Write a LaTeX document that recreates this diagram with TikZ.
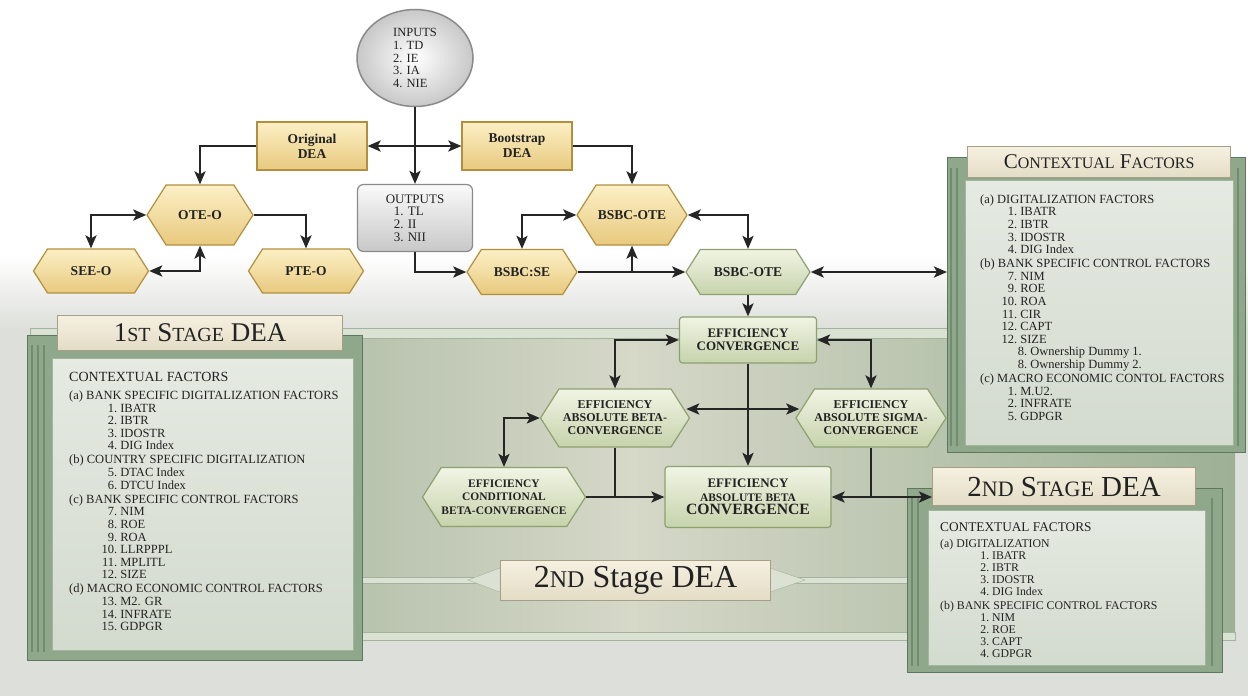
\documentclass[tikz,border=0pt]{standalone}
\usepackage{fontspec}
\setmainfont{Liberation Serif}
\usetikzlibrary{arrows.meta,shapes.symbols,shapes.geometric,calc}

\newcommand\itm[3][32pt]{\hspace*{#1}\makebox[16pt][r]{#2.}~#3}
\newcommand\smc[2]{{\fontsize{#1}{#1}\selectfont #2}}

\tikzset{
  link/.style={draw=arrowc,line width=2.8pt},
  goldbox/.style={draw=golddraw,line width=1.2pt,top color=goldtop,bottom color=goldbot,
    text=inkc,font=\fontsize{13.5}{15}\selectfont\bfseries,align=center,inner sep=0pt},
  goldhex/.style={goldbox,shape=signal,signal to=east and west,signal pointer angle=115},
  greenbox/.style={draw=greendraw,line width=1.2pt,top color=greentop,bottom color=greenbot,
    text=inkc,font=\fontsize{12.5}{13.5}\selectfont\bfseries,align=center,inner sep=0pt,rounded corners=3pt},
  greenhex/.style={greenbox,rounded corners=0pt,shape=signal,signal to=east and west,signal pointer angle=115,
    font=\fontsize{12}{13}\selectfont\bfseries},
  greybox/.style={draw=greydraw,line width=1.2pt,top color=greytop,bottom color=greybot,
    text=inkc,font=\fontsize{12.5}{12.6}\selectfont,align=left,inner sep=0pt},
  greyball/.style={draw=greydraw,line width=1.5pt,shape=ellipse,inner color=white,outer color=greybot,
    text=inkc,font=\fontsize{12.5}{12.6}\selectfont,align=left,inner sep=0pt},
  plate/.style={draw=platedraw,line width=1.2pt,top color=platetop,bottom color=platebot,
    text=inkc,inner sep=0pt,anchor=north west},
  frame/.style={draw=framedark,line width=1pt,fill=framemid,inner sep=0pt,anchor=north west},
  body/.style={draw=bodydraw,line width=1pt,top color=bodytop,bottom color=bodybot},
  listtxt/.style={text=inkc,font=\fontsize{12.5}{12.6}\selectfont,align=left,inner sep=0pt,anchor=north west}
}

\begin{document}
\begin{tikzpicture}[x=1pt,y=-1pt,>={Stealth[length=13pt,width=11pt,inset=3pt]}]
\definecolor{arrowc}{HTML}{252525}
\definecolor{inkc}{HTML}{222222}
\definecolor{goldtop}{HTML}{FCF0C6}
\definecolor{goldbot}{HTML}{E8C97E}
\definecolor{golddraw}{HTML}{B28F3E}
\definecolor{greentop}{HTML}{F1F4E4}
\definecolor{greenbot}{HTML}{C6D3AC}
\definecolor{greendraw}{HTML}{8EA070}
\definecolor{greytop}{HTML}{FAFAFA}
\definecolor{greybot}{HTML}{C8C8C8}
\definecolor{greydraw}{HTML}{8A8A8A}
\definecolor{platetop}{HTML}{F5F0E0}
\definecolor{platebot}{HTML}{E3DCC6}
\definecolor{platedraw}{HTML}{A79E86}
\definecolor{framemid}{HTML}{8FA78B}
\definecolor{framedark}{HTML}{5E785F}
\definecolor{bandc}{HTML}{718D70}
\definecolor{bodytop}{HTML}{E5EAE2}
\definecolor{bodybot}{HTML}{D3DACE}
\definecolor{bodydraw}{HTML}{A3B49C}
\definecolor{mist}{HTML}{DDDFDA}
\definecolor{boardL}{HTML}{93AA8E}
\definecolor{boardM}{HTML}{D6D8C8}
\definecolor{boardR}{HTML}{9DB196}
\definecolor{ledge}{HTML}{DCE2D3}

\useasboundingbox (0,0) rectangle (1248,696);
% backdrop and board
\fill[white] (0,0) rectangle (1248,696);
\shade[top color=white,bottom color=mist] (0,255) rectangle (1248,330);
\fill[mist] (0,330) rectangle (1248,696);
\shade[left color=boardL,right color=boardR,middle color=boardM] (30,330) rectangle (1235,640);
\fill[ledge,draw=bodydraw] (30,328) rectangle (1235,338);
\fill[ledge,draw=bodydraw] (30,632) rectangle (1235,640);

% banner
\fill[ledge,draw=bodydraw] (362,577) rectangle (907,583);
\filldraw[fill=ledge,draw=bodydraw] (468,580) -- (500,568) -- (500,592) -- cycle;
\filldraw[fill=ledge,draw=bodydraw] (805,580) -- (770,568) -- (770,592) -- cycle;
\node[plate,minimum width=270,minimum height=40,font=\fontsize{32}{32}\selectfont] (bn) at (500,560)
  {2\smc{24}{ND} Stage DEA};

% 1st stage panel
\node[frame,minimum width=335,minimum height=325] (p1) at (27,335) {};
\foreach \x in {32,38,44} \draw[bandc,line width=1.5pt] (\x,345) -- (\x,652);
\shade[body] (52,358) rectangle (353,650);
\node[plate,minimum width=285,minimum height=35,font=\fontsize{27}{27}\selectfont] (t1) at (57,315)
  {1\smc{20}{ST} S\smc{20}{TAGE} DEA};
\node[listtxt] (l1) at (69,372) {{\fontsize{14}{16}\selectfont CONTEXTUAL FACTORS}\\[5.4pt]
(a) BANK SPECIFIC DIGITALIZATION FACTORS\\
\itm{1}{IBATR}\\
\itm{2}{IBTR}\\
\itm{3}{IDOSTR}\\
\itm{4}{DIG Index}\\[1.5pt]
(b) COUNTRY SPECIFIC DIGITALIZATION\\
\itm{5}{DTAC Index}\\
\itm{6}{DTCU Index}\\[1.5pt]
(c) BANK SPECIFIC CONTROL FACTORS\\
\itm{7}{NIM}\\
\itm{8}{ROE}\\
\itm{9}{ROA}\\
\itm{10}{LLRPPPL}\\
\itm{11}{MPLITL}\\
\itm{12}{SIZE}\\[1.5pt]
(d) MACRO ECONOMIC CONTROL FACTORS\\
\itm{13}{M2. GR}\\
\itm{14}{INFRATE}\\
\itm{15}{GDPGR}};

% contextual factors panel
\node[frame,minimum width=298,minimum height=295] (p2) at (947,157) {};
\foreach \x in {951,957,1238} \draw[bandc,line width=1.5pt] (\x,168) -- (\x,446);
\shade[body] (965,180) rectangle (1233,445);
\node[plate,minimum width=263,minimum height=31,font=\fontsize{21}{21}\selectfont] (t2) at (967,146)
  {C\smc{16}{ONTEXTUAL} F\smc{16}{ACTORS}};
\node[listtxt] (l2) at (980,194.5) {(a) DIGITALIZATION FACTORS\\
\itm[21pt]{1}{IBATR}\\
\itm[21pt]{2}{IBTR}\\
\itm[21pt]{3}{IDOSTR}\\
\itm[21pt]{4}{DIG Index}\\[1.4pt]
(b) BANK SPECIFIC CONTROL FACTORS\\
\itm[21pt]{7}{NIM}\\
\itm[21pt]{9}{ROE}\\
\itm[21pt]{10}{ROA}\\
\itm[21pt]{11}{CIR}\\
\itm[21pt]{12}{CAPT}\\
\itm[21pt]{12}{SIZE}\\
\itm[31pt]{8}{Ownership Dummy 1.}\\
\itm[31pt]{8}{Ownership Dummy 2.}\\[1.4pt]
(c) MACRO ECONOMIC CONTOL FACTORS\\
\itm[21pt]{1}{M.U2.}\\
\itm[21pt]{2}{INFRATE}\\
\itm[21pt]{5}{GDPGR}};

% 2nd stage panel
\node[frame,minimum width=315,minimum height=184] (p3) at (907,488) {};
\foreach \x in {912,918,1212} \draw[bandc,line width=1.5pt] (\x,498) -- (\x,666);
\shade[body] (928,510) rectangle (1205,665);
\node[plate,minimum width=263,minimum height=38,font=\fontsize{29}{29}\selectfont] (t3) at (932,467)
  {2\smc{22}{ND} S\smc{22}{TAGE} DEA};
\node[listtxt,font=\fontsize{11.8}{12}\selectfont] (l3) at (940,522) {{\fontsize{13.3}{15}\selectfont CONTEXTUAL FACTORS}\\[4pt]
(a) DIGITALIZATION\\
\itm[33pt]{1}{IBATR}\\
\itm[33pt]{2}{IBTR}\\
\itm[33pt]{3}{IDOSTR}\\
\itm[33pt]{4}{DIG Index}\\[2.5pt]
(b) BANK SPECIFIC CONTROL FACTORS\\
\itm[33pt]{1}{NIM}\\
\itm[33pt]{2}{ROE}\\
\itm[33pt]{3}{CAPT}\\
\itm[33pt]{4}{GDPGR}};

% first stage flow
\node[greyball,minimum width=116,minimum height=97] (inp) at (415,58) {INPUTS\\1. TD\\2. IE\\3. IA\\4. NIE};
\node[greybox,rounded corners=6pt,minimum width=115,minimum height=67,font=\fontsize{13}{12.6}\selectfont] (out) at (415,218)
  {OUTPUTS\\\hspace*{8pt}1. TL\\\hspace*{8pt}2. II\\\hspace*{8pt}3. NII};
\node[goldbox,minimum width=110,minimum height=48] (orig) at (312,146) {Original\\DEA};
\node[goldbox,minimum width=110,minimum height=48] (boot) at (517,146) {Bootstrap\\DEA};
\node[goldhex,minimum width=106,minimum height=60] (ote) at (200,215) {OTE-O};
\node[goldhex,minimum width=115,minimum height=44] (see) at (91,271) {SEE-O};
\node[goldhex,minimum width=115,minimum height=44] (pte) at (306,271) {PTE-O};
\node[goldhex,minimum width=110,minimum height=60] (bote) at (632,215) {BSBC-OTE};
\node[goldhex,minimum width=110,minimum height=45] (bse) at (522,272) {BSBC:SE};
\node[greenhex,minimum width=124,minimum height=45,font=\fontsize{13.5}{15}\selectfont\bfseries] (bgote) at (748,272) {BSBC-OTE};

% convergence flow
\node[greenbox,minimum width=137,minimum height=46,font=\fontsize{13}{13.5}\selectfont\bfseries] (ec) at (748,340) {EFFICIENCY\\CONVERGENCE};
\node[greenhex,minimum width=149,minimum height=58] (abeta) at (615,418) {EFFICIENCY\\ABSOLUTE BETA-\\CONVERGENCE};
\node[greenhex,minimum width=138,minimum height=58] (asig) at (871,418) {EFFICIENCY\\ABSOLUTE SIGMA-\\CONVERGENCE};
\node[greenhex,minimum width=163,minimum height=59,font=\fontsize{11.5}{13.5}\selectfont\bfseries] (cbeta) at (504,497) {EFFICIENCY\\CONDITIONAL\\BETA-CONVERGENCE};
\node[greenbox,minimum width=166,minimum height=61] (abc) at (748,497)
  {\smc{13}{EFFICIENCY}\\\smc{11.5}{ABSOLUTE BETA}\\\smc{15.7}{CONVERGENCE}};

% connectors
\draw[link,->] (inp.south) -- (out.north);
\draw[link,<->] (orig.east) -- (boot.west);
\draw[link,->] (orig.west) -| (ote.north);
\draw[link,<->] (see.north) |- (ote.west);
\draw[link,->] (ote.east) -| (pte.north);
\draw[link,<->] (see.east) -| (ote.south);
\draw[link,->] (boot.east) -| (bote.north);
\draw[link,->] (out.south) |- (bse.west);
\draw[link,<->] (bse.north) |- (bote.west);
\draw[link,<->] (bote.east) -| (bgote.north);
\draw[link,->] (bse.east) -- (bgote.west);
\draw[link,->] (bse.east -| bote.south) -- (bote.south);
\draw[link,<->] (bgote.east) -- (bgote.east -| p2.west);
\draw[link,->] (bgote.south) -- (ec.north);
\draw[link,<->] (abeta.north) |- (ec.west);
\draw[link,<->] (asig.north) |- (ec.east);
\draw[link,->] (ec.south) -- (abc.north);
\draw[link,<->] ($(abeta.east)+(-4,-9)$) -- ($(asig.west)+(4,-9)$);
\draw[link,<->] (cbeta.north) |- (abeta.west);
\draw[link,->] (cbeta.east) -- (abc.west);
\draw[link] (abeta.south) -- (abeta.south |- abc.west);
\draw[link,<->] (abc.east) -- (abc.east -| t3.west);
\draw[link] (asig.south) -- (asig.south |- abc.east);
\end{tikzpicture}
\end{document}
